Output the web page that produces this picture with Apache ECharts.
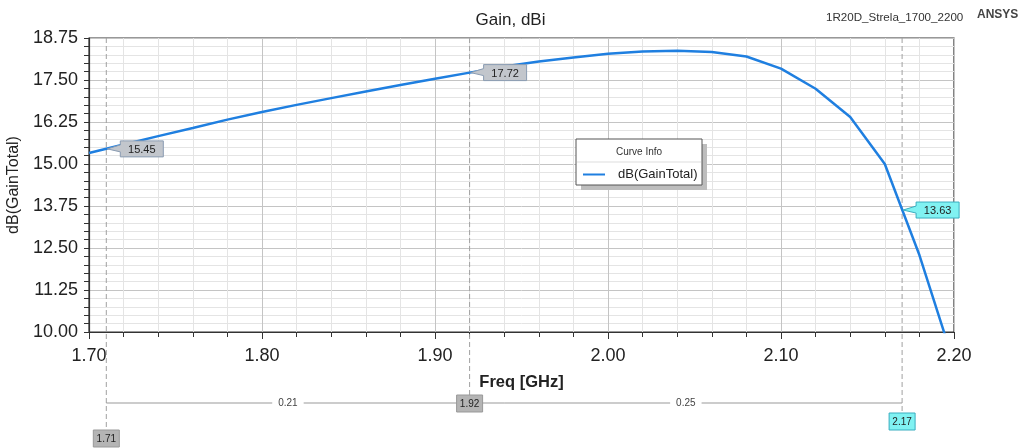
<!DOCTYPE html>
<html>
<head>
<meta charset="utf-8">
<script src="https://cdn.jsdelivr.net/npm/echarts@6/dist/echarts.min.js"></script>
<style>
  html, body { margin: 0; padding: 0; background: #fff; }
  #chart { width: 1021px; height: 448px; }
</style>
</head>
<body>
<div id="chart"></div>
<script>
// curve data
var freq = [1.70, 1.72, 1.74, 1.76, 1.78, 1.80, 1.82, 1.84, 1.86, 1.88, 1.90, 1.92, 1.94,
            1.96, 1.98, 2.00, 2.02, 2.04, 2.06, 2.08, 2.10, 2.12, 2.14, 2.16, 2.18, 2.20];
var gain = [15.33, 15.58, 15.83, 16.07, 16.32, 16.55, 16.76, 16.96, 17.16, 17.35, 17.54, 17.72, 17.90,
            18.05, 18.17, 18.28, 18.35, 18.37, 18.33, 18.20, 17.84, 17.24, 16.40, 15.00, 12.29, 9.07];

// markers
var markerFreq = [1.71, 1.92, 2.17];
var markerGain = [15.45, 17.72, 13.63];
var markerDelta = ['0.21', '0.25'];

var pts = [];
for (var i = 0; i < freq.length; i++) {
    pts.push([freq[i], gain[i]]);
}

var chart = echarts.init(document.getElementById('chart'));
var font = '"Liberation Sans", Arial, sans-serif';

var option = {
    animation: false,
    title: {
        text: 'Gain, dBi',
        left: 'center',
        top: 7,
        textStyle: { fontFamily: font, fontSize: 17, fontWeight: 'normal', color: '#222' }
    },
    grid: {
        left: 89, right: 67, top: 38, bottom: 116,
        outerBoundsMode: 'none',
        containLabel: false,
        show: true, borderColor: '#333', borderWidth: 1.2
    },
    legend: {
        left: 578, top: 163,
        z: 30,
        itemWidth: 22, itemHeight: 2,
        itemGap: 0,
        data: [{ name: 'dB(GainTotal)', icon: 'rect' }],
        textStyle: { fontFamily: font, fontSize: 13, color: '#222', padding: [0, 0, 0, 8] }
    },
    xAxis: {
        type: 'value',
        min: 1.7, max: 2.2, interval: 0.1,
        name: 'Freq [GHz]',
        nameLocation: 'middle',
        nameGap: 42,
        nameTextStyle: { fontFamily: font, fontSize: 16.5, fontWeight: 'bold', color: '#222' },
        axisLine: { lineStyle: { color: '#333', width: 1.2 } },
        axisTick: { show: true, length: 7, lineStyle: { color: '#333' } },
        minorTick: { show: true, splitNumber: 5, length: 5, lineStyle: { color: '#333' } },
        axisLabel: {
            margin: 15, fontFamily: font, fontSize: 18, color: '#222',
            formatter: function (v) { return v.toFixed(2); }
        },
        splitLine: { show: true, lineStyle: { color: '#c4c4c4', width: 1 } },
        minorSplitLine: { show: true, lineStyle: { color: '#e4e4e4', width: 1 } }
    },
    yAxis: {
        type: 'value',
        min: 10, max: 18.75, interval: 1.25,
        name: 'dB(GainTotal)',
        nameLocation: 'middle',
        nameGap: 65,
        nameTextStyle: { fontFamily: font, fontSize: 16, color: '#222' },
        axisLine: { show: true, lineStyle: { color: '#333', width: 1.2 } },
        axisTick: { show: true, length: 5, lineStyle: { color: '#333' } },
        minorTick: { show: true, splitNumber: 5, length: 5, lineStyle: { color: '#333' } },
        axisLabel: {
            margin: 11, fontFamily: font, fontSize: 18, color: '#222',
            formatter: function (v) { return v.toFixed(2); }
        },
        splitLine: { show: true, lineStyle: { color: '#c4c4c4', width: 1 } },
        minorSplitLine: { show: true, lineStyle: { color: '#e4e4e4', width: 1 } }
    },
    series: [
        {
            name: 'dB(GainTotal)',
            type: 'line',
            data: pts,
            symbol: 'none',
            clip: true,
            lineStyle: { color: '#1f7fe0', width: 2.5 },
            itemStyle: { color: '#1f7fe0' },
            z: 5
        }
    ]
};

chart.setOption(option);

// annotations placed through the axes
var plotTop = chart.convertToPixel({ gridIndex: 0 }, [1.7, 18.75])[1];
var plotBottom = chart.convertToPixel({ gridIndex: 0 }, [1.7, 10])[1];
var g = [];

// legend frame
g.push({ type: 'rect', shape: { x: 581, y: 144, width: 126, height: 46 }, style: { fill: '#bdbdbd' }, z: 10 });
g.push({ type: 'rect', shape: { x: 576, y: 139, width: 126, height: 46 },
    style: { fill: '#fff', stroke: '#555', lineWidth: 1 }, z: 11 });
g.push({ type: 'line', shape: { x1: 577, y1: 162, x2: 701, y2: 162 }, style: { stroke: '#ddd' }, z: 12 });
g.push({ type: 'text', x: 639, y: 152, z: 12,
    style: { text: 'Curve Info', fontFamily: font, fontSize: 10, fill: '#333', align: 'center', verticalAlign: 'middle' } });

// top right text
g.push({ type: 'text', x: 826, y: 18, style: { text: '1R20D_Strela_1700_2200', fontFamily: font, fontSize: 11.6, fill: '#333', verticalAlign: 'middle' } });
g.push({ type: 'text', x: 977, y: 15, style: { text: 'ANSYS', fontFamily: font, fontSize: 12, fontWeight: 'bold', fill: '#444', verticalAlign: 'middle' } });

var labelDrop = [98, 63, 81];
var xs = [];
for (var k = 0; k < markerFreq.length; k++) {
    var cyan = k === 2;
    var fill = cyan ? '#80f2f2' : '#c2c6cc';
    var stroke = cyan ? '#3aaec0' : '#8a9cb2';
    var p = chart.convertToPixel({ gridIndex: 0 }, [markerFreq[k], markerGain[k]]);
    var px = p[0], py = p[1];
    xs.push(px);
    var ly = plotBottom + labelDrop[k];

    // dashed marker line
    g.push({ type: 'line', shape: { x1: px, y1: plotTop, x2: px, y2: ly }, z: 4,
        style: { stroke: '#a0a0a0', lineWidth: 1, lineDash: [5, 3] } });

    // value callout
    var bx = px + 14, by = py - 8, w = 43, h = 16;
    g.push({ type: 'polygon', z: 20,
        shape: { points: [[px + 1, py], [bx, by + 4], [bx, by], [bx + w, by], [bx + w, by + h], [bx, by + h], [bx, by + 11]] },
        style: { fill: fill, stroke: stroke, lineWidth: 1 } });
    g.push({ type: 'text', x: bx + w / 2, y: by + h / 2 + 1, z: 21,
        style: { text: markerGain[k].toFixed(2), fontFamily: font, fontSize: 11, fill: '#222', align: 'center', verticalAlign: 'middle' } });

    // frequency label below axis
    g.push({ type: 'rect', z: 20, shape: { x: px - 13, y: ly, width: 26, height: 17 },
        style: { fill: cyan ? '#80f2f2' : '#b4b4b4', stroke: cyan ? '#3aaec0' : '#999', lineWidth: 1 } });
    g.push({ type: 'text', x: px, y: ly + 9, z: 21,
        style: { text: markerFreq[k].toFixed(2), fontFamily: font, fontSize: 10, fill: '#222', align: 'center', verticalAlign: 'middle' } });
}

// delta line
var dy = plotBottom + 71;
g.push({ type: 'line', shape: { x1: xs[0], y1: dy, x2: xs[2], y2: dy }, style: { stroke: '#999', lineWidth: 1 }, z: 4 });
for (var m = 0; m < markerDelta.length; m++) {
    g.push({ type: 'text', x: (xs[m] + xs[m + 1]) / 2, y: dy, z: 6,
        style: { text: markerDelta[m], fontFamily: font, fontSize: 10, fill: '#444', align: 'center', verticalAlign: 'middle',
            backgroundColor: '#fff', padding: [0, 6] } });
}

chart.setOption({ graphic: g });
</script>
</body>
</html>
